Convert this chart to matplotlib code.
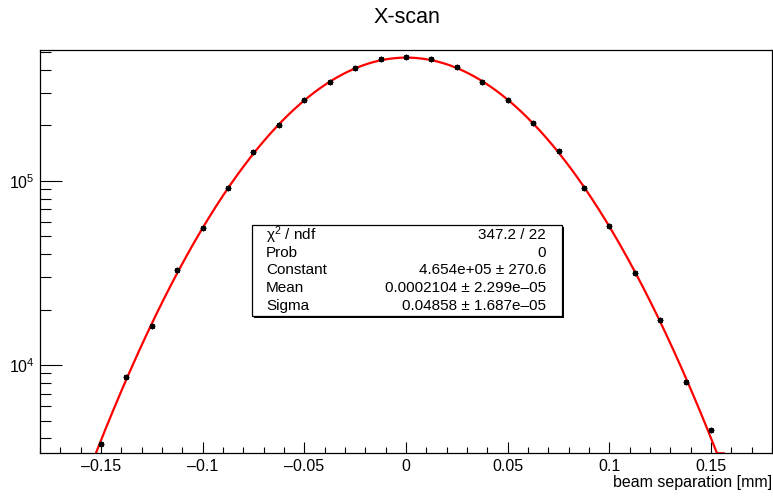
import matplotlib
matplotlib.use('Agg')
import matplotlib.pyplot as plt
import matplotlib.ticker as mticker
from matplotlib.patches import Rectangle
import numpy as np

plt.rcParams['font.family'] = ['Liberation Sans', 'DejaVu Sans']
plt.rcParams['mathtext.fontset'] = 'custom'
plt.rcParams['mathtext.rm'] = 'Liberation Sans'
plt.rcParams['mathtext.it'] = 'Liberation Sans:italic'

# scan points (beam separation in mm) and measured rates
sep = [-0.15, -0.1375, -0.125, -0.1125, -0.1, -0.0875, -0.075, -0.0625, -0.05,
       -0.0375, -0.025, -0.0125, 0.0, 0.0125, 0.025, 0.0375, 0.05, 0.0625,
       0.075, 0.0875, 0.1, 0.1125, 0.125, 0.1375, 0.15]
rate = [3727, 8578, 16340, 32900, 55590, 91620, 143100, 201300, 273100,
        343100, 410300, 459200, 469000, 455700, 412400, 344400, 274100, 206400,
        145500, 91850, 56990, 31570, 17480, 8087, 4456]

# gaussian fit result
fit_const = 4.654e5
fit_mean = 0.0002104
fit_sigma = 0.04858
fit_range = (-0.15625, 0.15625)

stats_names = ['\u03c7$^{2}$ / ndf', 'Prob', 'Constant', 'Mean', 'Sigma']
stats_vals = ['347.2 / 22', '0', '4.654e+05 \u00b1 270.6',
              '0.0002104 \u00b1 2.299e\u201305', '0.04858 \u00b1 1.687e\u201305']

xlim = (-0.18, 0.18)
ylim = (3320, 5.15e5)

fig = plt.figure(figsize=(7.73, 4.96), dpi=100)
ax = fig.add_axes([40/773, 1 - 453.3/496, 732/773, (453.3 - 49.5)/496])

# fit curve
xf = np.linspace(fit_range[0], fit_range[1], 600)
yf = fit_const * np.exp(-0.5 * ((xf - fit_mean) / fit_sigma) ** 2)
yf = np.where(xf > 0, np.maximum(yf, ylim[0]), yf)
ax.plot(xf, yf, color='red', lw=1.6, zorder=2)

# data points
ax.plot(sep, rate, linestyle='none', marker=(8, 2, 0), ms=4, mew=1.0,
        color='black', zorder=3)

ax.set_yscale('log')
ax.set_xlim(*xlim)
ax.set_ylim(*ylim)

ax.xaxis.set_major_locator(mticker.MultipleLocator(0.05))
ax.xaxis.set_minor_locator(mticker.MultipleLocator(0.01))
ax.xaxis.set_major_formatter(mticker.FuncFormatter(
    lambda v, p: '0' if abs(v) < 1e-9 else ('%g' % v).replace('-', '\u2013')))
ax.yaxis.set_major_locator(mticker.LogLocator(base=10))
ax.yaxis.set_minor_locator(mticker.LogLocator(base=10, subs=np.arange(2, 10)))
ax.yaxis.set_major_formatter(mticker.FuncFormatter(
    lambda v, p: r'$10^{%d}$' % round(np.log10(v))))
ax.yaxis.set_minor_formatter(mticker.NullFormatter())

ax.tick_params(axis='x', which='major', direction='in', length=8, width=0.8,
               labelsize=11.5, pad=4)
ax.tick_params(axis='x', which='minor', direction='in', length=4, width=0.8)
ax.tick_params(axis='y', which='major', direction='in', length=16, width=0.8,
               labelsize=11.5, pad=4)
ax.tick_params(axis='y', which='minor', direction='in', length=8, width=0.8)
for s in ax.spines.values():
    s.set_linewidth(0.9)

ax.set_xlabel('beam separation [mm]', fontsize=11.5, ha='right', x=1.0,
              labelpad=1)
fig.text(407/773, 1 - 17.5/496, 'X-scan', ha='center', va='center', fontsize=15.5)

# stats box
bx0, bx1 = 252/773, 562/773
by0, by1 = 1 - 316/496, 1 - 225/496
fig.patches.append(Rectangle((bx0 + 1.5/773, by0 - 1.5/496), bx1 - bx0, by1 - by0,
                             transform=fig.transFigure, facecolor='black',
                             edgecolor='none', zorder=4))
fig.patches.append(Rectangle((bx0, by0), bx1 - bx0, by1 - by0,
                             transform=fig.transFigure, facecolor='white',
                             edgecolor='black', lw=0.9, zorder=5))
for i, (n, v) in enumerate(zip(stats_names, stats_vals)):
    yy = 1 - (234.9 + 17.8 * i) / 496
    fig.text(266/773, yy, n, ha='left', va='center', fontsize=11, zorder=6)
    fig.text(546/773, yy, v, ha='right', va='center', fontsize=11, zorder=6)

plt.savefig('out.png', dpi=100)
